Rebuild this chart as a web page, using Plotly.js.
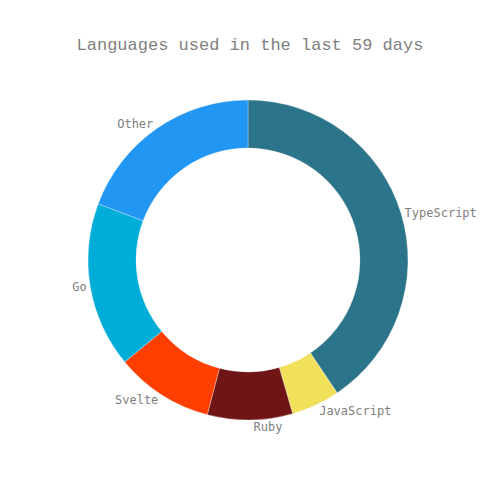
<!DOCTYPE html>
<html>
<head>
<meta charset="utf-8">
<script src="https://cdn.plot.ly/plotly-3.0.1.min.js"></script>
<style>html,body{margin:0;padding:0;background:#fff;}</style>
</head>
<body>
<div id="chart" style="width:500px;height:500px;"></div>
<script>
var languages = ["TypeScript", "JavaScript", "Ruby", "Svelte", "Go", "Other"];
var shares = [40.6, 4.9, 8.6, 9.9, 16.7, 19.3];
var colors = ["#2b7489", "#f1e05a", "#701516", "#ff3e00", "#00add8", "#2196f3"];

var data = [{
  type: "pie",
  labels: languages,
  values: shares,
  hole: 0.7,
  sort: false,
  direction: "clockwise",
  rotation: 0,
  textinfo: "label",
  textposition: "outside",
  outsidetextfont: {family: "DejaVu Sans Mono, monospace", size: 12, color: "#808080"},
  marker: {colors: colors, line: {color: "#ffffff", width: 0.3}},
  showlegend: false,
  hoverinfo: "label+percent"
}];

var layout = {
  width: 500,
  height: 500,
  margin: {l: 78, r: 82, t: 100, b: 80},
  title: {text: "Languages used in the last 59 days", x: 0.5, xref: "container", font: {family: "Liberation Mono, monospace", size: 17, color: "#808080"}},
  paper_bgcolor: "#ffffff",
  showlegend: false
};

Plotly.newPlot("chart", data, layout, {displayModeBar: false});
</script>
</body>
</html>
